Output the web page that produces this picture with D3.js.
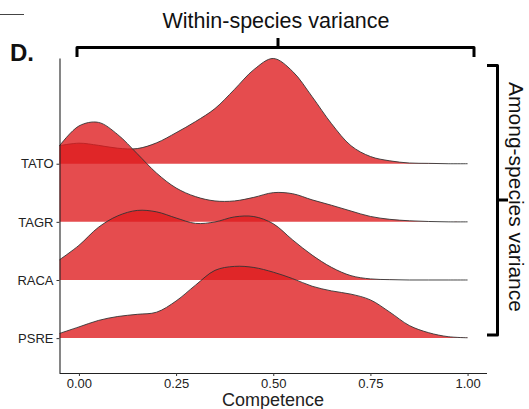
<!DOCTYPE html>
<html>
<head>
<meta charset="utf-8">
<script src="https://cdn.jsdelivr.net/npm/d3@7"></script>
<style>
	body { margin: 0; background: #fff; }
	text { font-family: "Liberation Sans", Arial, Helvetica, sans-serif; }
</style>
</head>
<body>
<div id="chart"></div>
<script>
// Data: density of competence per species
var species = ['PSRE', 'RACA', 'TAGR', 'TATO'];
var competence = [-0.05, 0.00, 0.05, 0.10, 0.15, 0.20, 0.25, 0.30, 0.35, 0.40, 0.45,
		0.50, 0.55, 0.60, 0.65, 0.70, 0.75, 0.80, 0.85, 0.90, 0.95, 1.00];
var densityTATO = [0.50, 0.57, 0.51, 0.43, 0.42, 0.58, 0.86, 1.17, 1.53, 2.06, 2.61,
		2.92, 2.56, 1.86, 1.11, 0.50, 0.20, 0.08, 0.02, 0.01, 0.00, 0.00];
var densityTAGR = [2.11, 2.66, 2.76, 2.42, 1.89, 1.35, 0.94, 0.70, 0.58, 0.58, 0.68,
		0.81, 0.78, 0.61, 0.46, 0.30, 0.15, 0.07, 0.03, 0.01, 0.00, 0.00];
var densityRACA = [0.56, 0.96, 1.46, 1.78, 1.93, 1.89, 1.72, 1.57, 1.61, 1.75, 1.76,
		1.56, 1.11, 0.69, 0.35, 0.12, 0.03, 0.01, 0.00, 0.00, 0.00, 0.00];
var densityPSRE = [0.13, 0.31, 0.49, 0.60, 0.66, 0.72, 1.03, 1.47, 1.88, 1.99, 1.96,
		1.83, 1.65, 1.44, 1.31, 1.22, 1.06, 0.72, 0.35, 0.15, 0.04, 0.01];
var xTicks = [0, 0.25, 0.5, 0.75, 1];

var densities = {TATO: densityTATO, TAGR: densityTAGR, RACA: densityRACA, PSRE: densityPSRE};

// Layout
var width = 529;
var height = 409;
var ridgeScale = 0.62;

var xScale = d3.scaleLinear()
		.domain([-0.05, 1.05])
		.range([59.5, 487]);

var yScale = d3.scaleLinear()
		.domain([0.4, 5.81])
		.range([373, 58.5]);

var svg = d3.select('#chart').append('svg')
		.attr('width', width)
		.attr('height', height);

/**
 * Builds the points of one ridge.
 */
function ridgePoints(name) {
	let idx = species.indexOf(name) + 1;
	return competence.map((c, i) => ({x: c, base: idx, d: densities[name][i]}));
}

var curve = d3.curveCatmullRom.alpha(0.5);

var area = d3.area()
		.x(p => xScale(p.x))
		.y0(p => yScale(p.base))
		.y1(p => yScale(p.base + p.d * ridgeScale))
		.curve(curve);

var line = d3.line()
		.x(p => xScale(p.x))
		.y(p => yScale(p.base + p.d * ridgeScale))
		.curve(curve);

// Draw ridges top to bottom so lower ones sit in front
var ridges = svg.append('g');
species.slice().reverse().forEach(name => {
	let pts = ridgePoints(name);
	ridges.append('path')
			.attr('d', area(pts))
			.attr('fill', 'rgb(222,28,30)')
			.attr('fill-opacity', 0.79);
	ridges.append('path')
			.attr('d', line(pts))
			.attr('fill', 'none')
			.attr('stroke', '#333')
			.attr('stroke-width', 0.9);
});

// Axes
var xAxis = svg.append('g')
		.attr('transform', 'translate(0,373)')
		.call(d3.axisBottom(xScale).tickValues(xTicks).tickFormat(d3.format('.2f')).tickSize(3).tickPadding(3));

var yAxis = svg.append('g')
		.attr('transform', 'translate(59.5,0)')
		.call(d3.axisLeft(yScale).tickValues([1, 2, 3, 4]).tickFormat(d => species[d - 1]).tickSize(3).tickPadding(3));

[xAxis, yAxis].forEach(ax => {
	ax.select('.domain').attr('stroke', '#222').attr('stroke-width', 1.1);
	ax.selectAll('.tick line').attr('stroke', '#333');
	ax.selectAll('.tick text')
			.attr('fill', '#222')
			.style('font-size', '13px')
			.style('font-family', '"Liberation Sans", Arial, sans-serif');
});
xAxis.select('.domain').attr('d', 'M59.5,0.5H487');
yAxis.select('.domain').attr('d', 'M0.5,58.5V373');

svg.append('text')
		.attr('x', 273)
		.attr('y', 406)
		.attr('text-anchor', 'middle')
		.style('font-size', '18px')
		.attr('fill', '#222')
		.text('Competence');

// Panel letter and stray rule from the original figure
svg.append('text')
		.attr('x', 10)
		.attr('y', 61)
		.style('font-size', '24px')
		.style('font-weight', 'bold')
		.attr('fill', '#111')
		.text('D.');

svg.append('line')
		.attr('x1', 0).attr('x2', 24)
		.attr('y1', 14.5).attr('y2', 14.5)
		.attr('stroke', '#444')
		.attr('stroke-width', 1);

// Brackets
var bracket = svg.append('g')
		.attr('fill', 'none')
		.attr('stroke', '#000')
		.attr('stroke-width', 3)
		.attr('stroke-linejoin', 'round');

bracket.append('path').attr('d', 'M77,57V47.5H474V57');
bracket.append('path').attr('d', 'M278,47.5V38');
bracket.append('path').attr('d', 'M487,65.5H497.5V335H487');
bracket.append('path').attr('d', 'M497.5,200H508');

svg.append('text')
		.attr('x', 276)
		.attr('y', 28)
		.attr('text-anchor', 'middle')
		.style('font-size', '21.5px')
		.attr('fill', '#111')
		.text('Within-species variance');

svg.append('text')
		.attr('transform', 'translate(509,197) rotate(90)')
		.attr('text-anchor', 'middle')
		.style('font-size', '21px')
		.attr('fill', '#111')
		.text('Among-species variance');
</script>
</body>
</html>
